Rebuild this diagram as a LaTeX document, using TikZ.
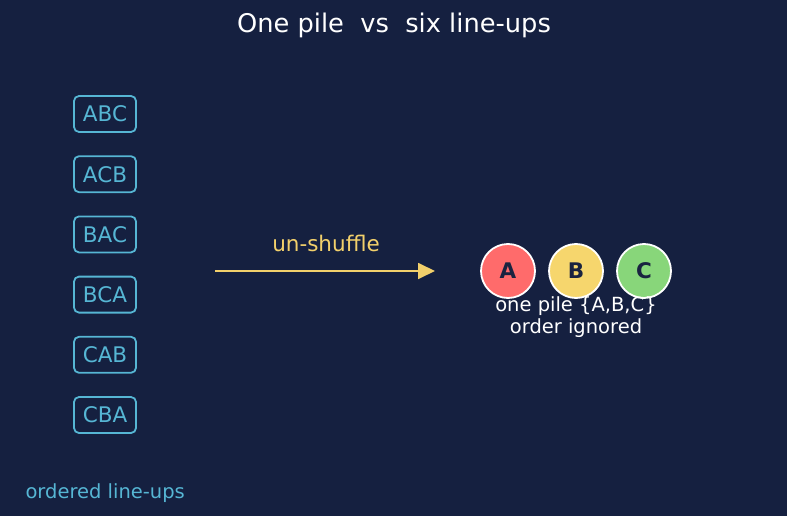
\documentclass[tikz,border=0pt]{standalone}
\usepackage{fontspec}
\setmainfont{DejaVu Sans}
\usetikzlibrary{positioning,arrows.meta}
\definecolor{bgnavy}{HTML}{152040}
\definecolor{lineblue}{HTML}{56B6D4}
\definecolor{shuffleyellow}{HTML}{F2D06B}
\definecolor{tokenred}{HTML}{FF6B6B}
\definecolor{tokenyellow}{HTML}{F6D66D}
\definecolor{tokengreen}{HTML}{88D67A}
\definecolor{inkdark}{HTML}{1A2340}
\tikzset{
  lineup/.style={
    draw=lineblue, line width=1.8pt, rounded corners=5pt,
    text=lineblue, minimum width=62pt, minimum height=36pt,
    inner sep=0pt, font=\fontsize{21.5}{26}\selectfont
  },
  token/.style={
    circle, draw=white, line width=1.8pt, minimum size=54pt,
    inner sep=0pt, text=inkdark, font=\bfseries\fontsize{21.5}{26}\selectfont
  }
}

\begin{document}
\begin{tikzpicture}[x=1pt,y=-1pt]
        \fill[bgnavy] (0,0) rectangle (787,516);
        \useasboundingbox (0,0) rectangle (787,516);

        \node [text=white,font=\fontsize{25.7}{30}\selectfont] (Title) at (394,25) {One pile\ \ vs\ \ six line-ups};

        \node [lineup] (ABC) at (105,114) {ABC};
        \node [lineup, on grid, below=60.2pt of ABC] (ACB) {ACB};
        \node [lineup, on grid, below=60.2pt of ACB] (BAC) {BAC};
        \node [lineup, on grid, below=60.2pt of BAC] (BCA) {BCA};
        \node [lineup, on grid, below=60.2pt of BCA] (CAB) {CAB};
        \node [lineup, on grid, below=60.2pt of CAB] (CBA) {CBA};
        \node [anchor=west, text=lineblue, font=\fontsize{19.5}{23}\selectfont] (Ordered) at (22,493) {ordered line-ups};

        \coordinate (ShufStart) at (215,271);
        \coordinate (ShufEnd) at (435,271);
        \draw [shuffleyellow, line width=1.8pt, -{Triangle[length=17pt,width=16pt]}] (ShufStart) to (ShufEnd);
        \node [text=shuffleyellow, font=\fontsize{21.5}{26}\selectfont] (ShufText) at (326,243) {un-shuffle};

        \node [token, fill=tokenred] (A) at (508,271) {A};
        \node [token, fill=tokenyellow, on grid, right=68pt of A] (B) {B};
        \node [token, fill=tokengreen, on grid, right=68pt of B] (C) {C};
        \node [text=white, align=center, font=\fontsize{19.5}{22}\selectfont] (Pile) at (576,317) {one pile \{A,B,C\}\\order ignored};
\end{tikzpicture}
\end{document}
